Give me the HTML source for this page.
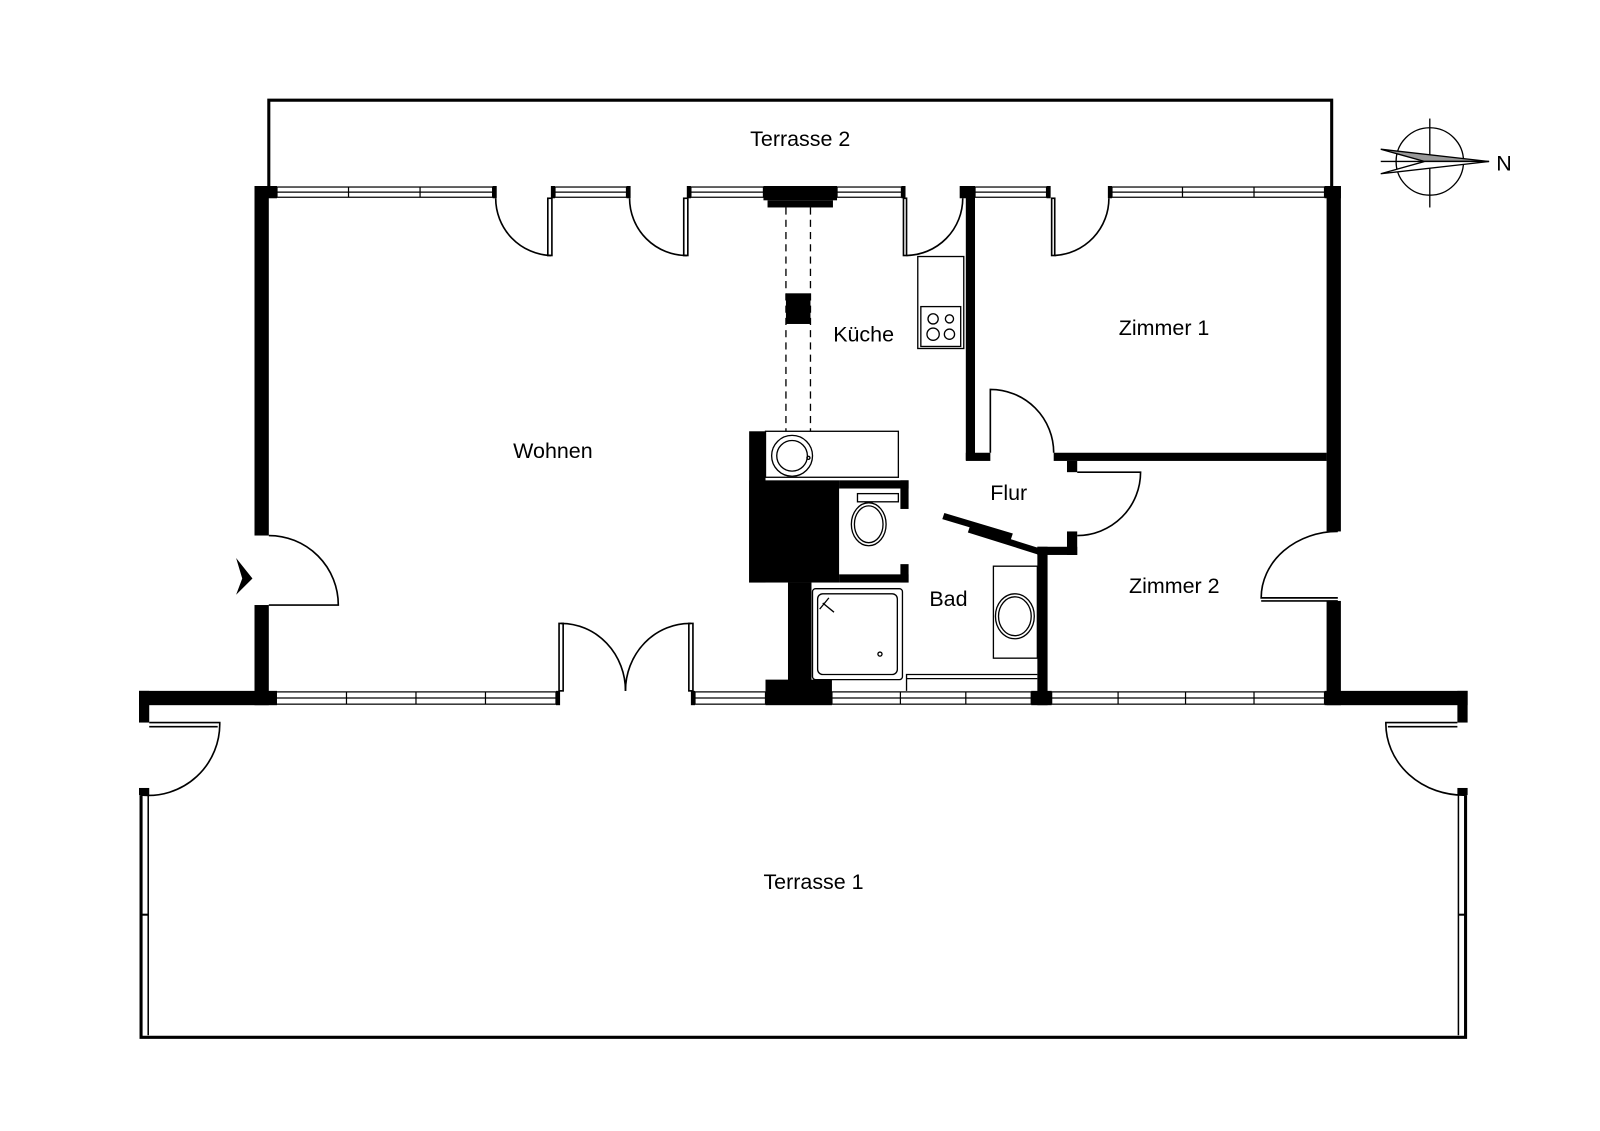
<!DOCTYPE html>
<html><head><meta charset="utf-8"><style>body{margin:0;background:#fff}svg{display:block}text{font-family:"Liberation Sans",sans-serif;font-size:21px;fill:#000}</style></head><body>
<svg width="1600" height="1131" viewBox="0 0 1600 1131" xmlns="http://www.w3.org/2000/svg">
<rect width="1600" height="1131" fill="#fff"/>
<g transform="translate(-1,0) scale(1.022)">
<g fill="none" stroke="#000" stroke-width="2">
<polyline points="264,182 264,98 1304,98 1304,182" stroke-width="3"/>
<polyline points="139,778 139,1015 1435,1015 1435,778" stroke-width="3"/>
<line x1="146" y1="778" x2="146" y2="1013" stroke-width="1.5"/>
<line x1="1428" y1="778" x2="1428" y2="1013" stroke-width="1.5"/>
<line x1="139" y1="895" x2="146" y2="895"/>
<line x1="1428" y1="895" x2="1435" y2="895"/>
</g>
<g fill="#000">
<rect x="250" y="182" width="14" height="342"/>
<rect x="250" y="592" width="14" height="98"/>
<rect x="1299" y="182" width="14" height="338"/>
<rect x="1299" y="588" width="14" height="102"/>
<rect x="137" y="676" width="135" height="14"/>
<rect x="137" y="676" width="10" height="31"/>
<rect x="1297" y="676" width="140" height="14"/>
<rect x="1427" y="676" width="10" height="31"/>
<rect x="137" y="771" width="10" height="7"/>
<rect x="1427" y="771" width="10" height="7"/>
<rect x="250" y="182" width="22" height="12"/>
<rect x="1297" y="182" width="16" height="12"/>
<rect x="748" y="182" width="72" height="14"/>
<rect x="752" y="196" width="64" height="7"/>
<rect x="770" y="287" width="24" height="30"/>
<rect x="946" y="182" width="9" height="268"/>
<rect x="946" y="443" width="24" height="8"/>
<rect x="1032" y="443" width="267" height="8"/>
<rect x="1045" y="451" width="10" height="11"/>
<rect x="1045" y="520" width="10" height="23"/>
<rect x="1016" y="535" width="39" height="8"/>
<rect x="1016" y="535" width="10" height="155"/>
<rect x="734" y="422" width="16" height="148"/>
<rect x="734" y="470" width="88" height="100"/>
<rect x="822" y="470" width="68" height="8"/>
<rect x="882" y="470" width="8" height="28"/>
<rect x="822" y="562" width="68" height="8"/>
<rect x="882" y="552" width="8" height="18"/>
<rect x="772" y="570" width="23" height="110"/>
<rect x="750" y="665" width="65" height="25"/>
<rect x="1010" y="676" width="20" height="14"/>
<rect x="483" y="182" width="4" height="12"/><rect x="540" y="182" width="4" height="12"/>
<rect x="614" y="182" width="4" height="12"/><rect x="673" y="182" width="4" height="12"/>
<rect x="883" y="182" width="4" height="12"/><rect x="940" y="182" width="15" height="12"/>
<rect x="1025" y="182" width="4" height="12"/><rect x="1085" y="182" width="4" height="12"/>
<rect x="545" y="676" width="4" height="14"/><rect x="677" y="676" width="4" height="14"/>
<polygon points="925,502 992,522 990,528 923,508"/>
<polygon points="950,515 1020,537 1018,543 948,521"/>
<polygon points="232,546 248,566 232,582 238,566"/>
</g>
<g fill="none" stroke="#000" stroke-width="1.2">
<rect x="272" y="183" width="211" height="10"/><line x1="272" y1="188" x2="483" y2="188"/><line x1="342" y1="183" x2="342" y2="193"/><line x1="412" y1="183" x2="412" y2="193"/>
<rect x="544" y="183" width="70" height="10"/><line x1="544" y1="188" x2="614" y2="188"/>
<rect x="677" y="183" width="71" height="10"/><line x1="677" y1="188" x2="748" y2="188"/>
<rect x="820" y="183" width="63" height="10"/><line x1="820" y1="188" x2="883" y2="188"/>
<rect x="955" y="183" width="70" height="10"/><line x1="955" y1="188" x2="1025" y2="188"/>
<rect x="1089" y="183" width="208" height="10"/><line x1="1089" y1="188" x2="1297" y2="188"/><line x1="1158" y1="183" x2="1158" y2="193"/><line x1="1228" y1="183" x2="1228" y2="193"/>
<rect x="264" y="677" width="281" height="12"/><line x1="264" y1="683" x2="545" y2="683"/><line x1="340" y1="677" x2="340" y2="689"/><line x1="408" y1="677" x2="408" y2="689"/><line x1="476" y1="677" x2="476" y2="689"/>
<rect x="681" y="677" width="69" height="12"/><line x1="681" y1="683" x2="750" y2="683"/>
<rect x="815" y="677" width="195" height="12"/><line x1="815" y1="683" x2="1010" y2="683"/><line x1="882" y1="677" x2="882" y2="689"/><line x1="946" y1="677" x2="946" y2="689"/>
<rect x="1030" y="677" width="267" height="12"/><line x1="1030" y1="683" x2="1297" y2="683"/><line x1="1095" y1="677" x2="1095" y2="689"/><line x1="1161" y1="677" x2="1161" y2="689"/><line x1="1228" y1="677" x2="1228" y2="689"/>
</g>
<g fill="none" stroke="#000" stroke-width="1.6">
<rect x="537" y="194" width="4" height="56"/><path d="M486,194 A56,56 0 0 0 540,250"/>
<rect x="670" y="194" width="4" height="56"/><path d="M617,194 A56,56 0 0 0 673,250"/>
<rect x="885" y="194" width="3" height="56"/><path d="M943,194 A56,56 0 0 1 888,250"/>
<rect x="1030" y="194" width="3" height="56"/><path d="M1086,194 A56,56 0 0 1 1033,250"/>
<path d="M970,443 L970,381 A62,62 0 0 1 1032,443"/>
<path d="M1055,462 L1117,462 A62,62 0 0 1 1055,524"/>
<path d="M1310,520 A75,65 0 0 0 1235,585 L1310,585"/><line x1="1235" y1="588" x2="1310" y2="588"/>
<path d="M264,524 A68,68 0 0 1 332,592 L264,592"/>
<rect x="548" y="610" width="4" height="66"/><path d="M550,610 A63,66 0 0 1 613,676"/>
<rect x="675" y="610" width="4" height="66"/><path d="M677,610 A63,66 0 0 0 613,676"/>
<path d="M147,707 L216,707 A70,70 0 0 1 139,778"/><line x1="147" y1="711" x2="214" y2="711"/>
<path d="M1427,707 L1357,707 A76,70 0 0 0 1435,778"/><line x1="1427" y1="711" x2="1359" y2="711"/>
</g>
<g fill="none" stroke="#000" stroke-width="1.3">
<line x1="770" y1="203" x2="770" y2="422" stroke-dasharray="7,5"/>
<line x1="794" y1="203" x2="794" y2="422" stroke-dasharray="7,5"/>
<rect x="899" y="251" width="45" height="90"/>
<rect x="902" y="300" width="39" height="39"/>
<circle cx="914" cy="312" r="5"/><circle cx="930" cy="312" r="4"/><circle cx="914" cy="327" r="6"/><circle cx="930" cy="327" r="5"/>
<rect x="750" y="422" width="130" height="45"/>
<circle cx="776" cy="446" r="20"/><circle cx="776" cy="446" r="15"/><circle cx="792" cy="448" r="1.5"/>
<rect x="840" y="483" width="40" height="8"/>
<ellipse cx="851" cy="513" rx="17" ry="21"/><ellipse cx="851" cy="513" rx="14" ry="18"/>
<rect x="796" y="576" width="88" height="89" rx="3"/><rect x="801" y="581" width="78" height="79" rx="5"/>
<line x1="806" y1="590" x2="817" y2="599"/><line x1="803" y1="596" x2="812" y2="585"/>
<circle cx="862" cy="640" r="2"/>
<polyline points="888,676 888,660 1016,660"/><line x1="888" y1="664" x2="1016" y2="664"/>
<rect x="973" y="554" width="43" height="90"/>
<ellipse cx="994" cy="603" rx="19" ry="22"/><ellipse cx="994" cy="603" rx="16" ry="19"/>
</g>
<g fill="none" stroke="#000" stroke-width="1.3">
<circle cx="1400" cy="158" r="33"/>
<line x1="1400" y1="116" x2="1400" y2="203"/>
<line x1="1352" y1="158" x2="1400" y2="158"/>
</g>
<polygon points="1352,146 1458,158 1395,158" fill="#999" stroke="#000" stroke-width="1.3"/>
<polygon points="1352,170 1458,158 1395,158" fill="#fff" stroke="#000" stroke-width="1.3"/>
<text x="1465" y="167">N</text>
<text x="784" y="143" text-anchor="middle">Terrasse 2</text>
<text x="542" y="448" text-anchor="middle">Wohnen</text>
<text x="846" y="334" text-anchor="middle">Küche</text>
<text x="1140" y="328" text-anchor="middle">Zimmer 1</text>
<text x="988" y="489" text-anchor="middle">Flur</text>
<text x="929" y="593" text-anchor="middle">Bad</text>
<text x="1150" y="580" text-anchor="middle">Zimmer 2</text>
<text x="797" y="870" text-anchor="middle">Terrasse 1</text>
</g>
</svg>
</body></html>
